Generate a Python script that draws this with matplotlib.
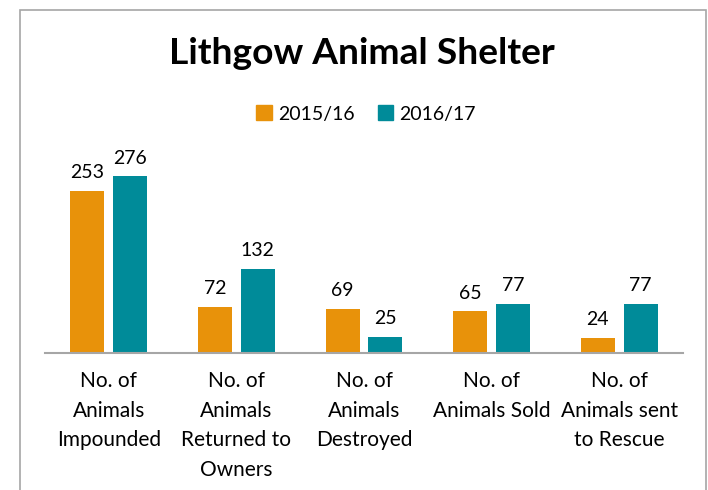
import matplotlib
matplotlib.use("Agg")
import matplotlib.pyplot as plt
from matplotlib.patches import Rectangle, Patch
import numpy as np

categories = ["No. of\nAnimals\nImpounded", "No. of\nAnimals\nReturned to\nOwners",
              "No. of\nAnimals\nDestroyed", "No. of\nAnimals Sold", "No. of\nAnimals sent\nto Rescue"]
series_names = ["2015/16", "2016/17"]
vals_1516 = [253, 72, 69, 65, 24]
vals_1617 = [276, 132, 25, 77, 77]
colors = ["#E8920A", "#008B99"]

plt.rcParams['font.family'] = ['Lato', 'DejaVu Sans']

fig = plt.figure(figsize=(7.08, 4.9), dpi=100)
fig.patches.append(Rectangle((20/708, -0.1), (706-20)/708, (1 - 10/490) + 0.1,
                             transform=fig.transFigure, fill=False,
                             edgecolor="#A6A6A6", linewidth=1.2, zorder=0))

ax = fig.add_axes([45/708, 1-353/490, (683-45)/708, (353-161)/490])
x = np.arange(len(categories))
w = 0.266
off = 0.168
b1 = ax.bar(x - off, vals_1516, w, color=colors[0], label=series_names[0])
b2 = ax.bar(x + off, vals_1617, w, color=colors[1], label=series_names[1])
ax.set_ylim(0, 300)
ax.set_xlim(-0.5, len(categories) - 0.5)
for bars, vals in ((b1, vals_1516), (b2, vals_1617)):
    for r, v in zip(bars, vals):
        ax.annotate(str(v), (r.get_x() + r.get_width()/2, v), xytext=(0, 7),
                    textcoords="offset points", ha="center", va="bottom",
                    fontsize=14, color="#000000")
for s in ["top", "right", "left"]:
    ax.spines[s].set_visible(False)
ax.spines["bottom"].set_color("#A6A6A6")
ax.spines["bottom"].set_linewidth(1.5)
ax.set_yticks([])
ax.set_xticks(x)
ax.set_xticklabels(categories, fontsize=15, linespacing=1.6)
ax.tick_params(axis="x", length=0, pad=13)

fig.text(362/708, 1-54/490, "Lithgow Animal Shelter", ha="center", va="center",
         fontsize=26.7, fontweight="bold")
handles = [Patch(color=colors[0]), Patch(color=colors[1])]
fig.legend(handles, series_names, loc="center", bbox_to_anchor=(366/708, 1-114/490),
           ncol=2, frameon=False, fontsize=14, handlelength=0.8, handleheight=0.8,
           handletextpad=0.3, columnspacing=1.2)

fig.savefig("out.png", dpi=100)
